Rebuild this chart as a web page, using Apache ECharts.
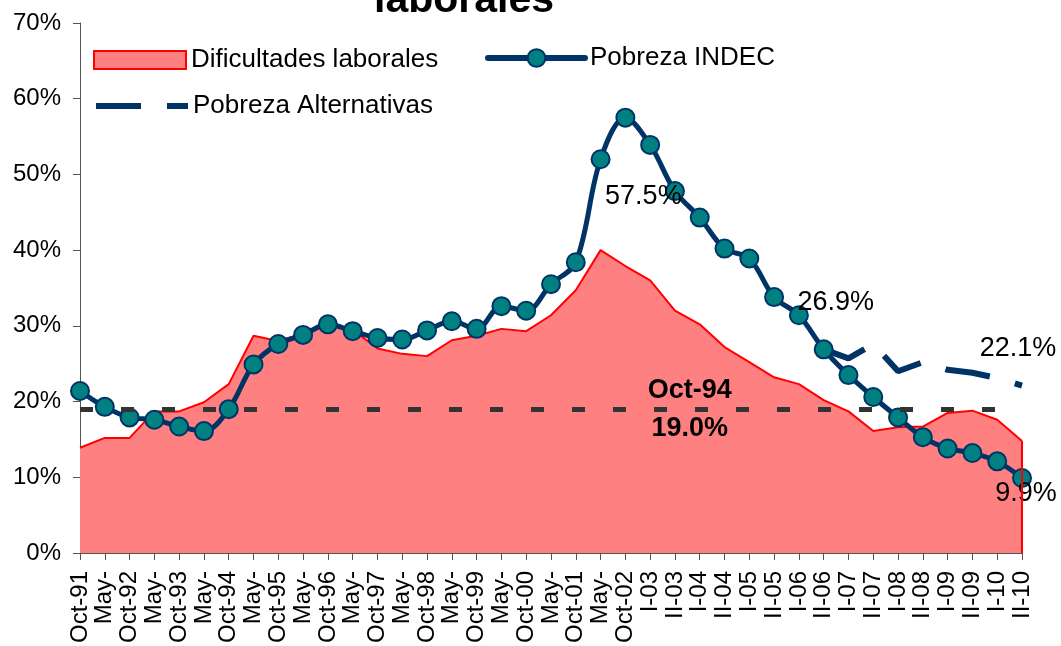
<!DOCTYPE html>
<html>
<head>
<meta charset="utf-8">
<script src="https://cdn.jsdelivr.net/npm/echarts@6/dist/echarts.min.js"></script>
<style>
  html, body { margin: 0; padding: 0; background: #fff; }
  #chart { width: 1061px; height: 646px; }
</style>
</head>
<body>
<div id="chart"></div>
<script>
// categorias del eje x
const CATEGORIES = ['Oct-91', 'May-', 'Oct-92', 'May-', 'Oct-93', 'May-', 'Oct-94', 'May-', 'Oct-95', 'May-',
  'Oct-96', 'May-', 'Oct-97', 'May-', 'Oct-98', 'May-', 'Oct-99', 'May-', 'Oct-00', 'May-', 'Oct-01', 'May-',
  'Oct-02', 'I-03', 'II-03', 'I-04', 'II-04', 'I-05', 'II-05', 'I-06', 'II-06', 'I-07', 'II-07', 'I-08', 'II-08',
  'I-09', 'II-09', 'I-10', 'II-10']

// series (%)
const DIFICULTADES = [13.9, 15.2, 15.2, 18.7, 18.7, 19.9, 22.3, 28.7, 28.0, 29.0, 30.0, 29.5, 27.0, 26.3, 26.0,
  28.1, 28.7, 29.6, 29.3, 31.4, 34.7, 40.0, 37.9, 36.0, 32.0, 30.2, 27.2, 25.2, 23.2, 22.3, 20.2, 18.7, 16.1,
  16.6, 16.7, 18.5, 18.8, 17.6, 14.8]
const INDEC = [21.4, 19.3, 17.9, 17.6, 16.7, 16.1, 19.0, 24.9, 27.6, 28.8, 30.2, 29.3, 28.4, 28.2, 29.4, 30.6,
  29.6, 32.6, 32.0, 35.5, 38.4, 52.0, 57.5, 53.9, 47.8, 44.3, 40.2, 38.9, 33.8, 31.4, 26.9, 23.5, 20.6, 17.9,
  15.3, 13.8, 13.2, 12.1, 9.9]
// Pobreza Alternativas arranca en II-06
const ALT_START = 'II-06'
const ALTERNATIVAS = [26.9, 25.7, 27.6, 24.0, 25.2, 24.2, 23.8, 23.1, 22.1]

// referencia: Oct-94
const REF_CATEGORY = 'Oct-94'
const REF_LABEL_AT = 'I-04'

// eje y
const Y_MIN = 0
const Y_MAX = 70
const Y_STEP = 10

const FONT = 'Liberation Sans, Arial, sans-serif'
const pct = (v) => v.toFixed(1) + '%'

const refIndex = CATEGORIES.indexOf(REF_CATEGORY)
const refValue = INDEC[refIndex]
const altStart = CATEGORIES.indexOf(ALT_START)
const last = CATEGORIES.length - 1

// etiquetas puestas a mano como en el original
const indecLabelOffsets = { 22: [18, 79], 30: [12, -47] }
indecLabelOffsets[last] = [4, 16]

const indecData = INDEC.map((v, i) => {
  const off = indecLabelOffsets[i]
  if (!off) return v
  return { value: v, label: { show: true, position: 'inside', offset: off } }
})

const altData = ALTERNATIVAS.map((v, i) => {
  const idx = altStart + i
  if (idx !== last) return [idx, v]
  return { value: [idx, v], label: { show: true, position: 'inside', offset: [-4, -37] } }
})

const labelText = { fontFamily: FONT, fontSize: 27, color: '#000' }

const chart = echarts.init(document.getElementById('chart'))
const option = {
  animation: false,
  title: {
    text: 'laborales',
    left: 374,
    top: -20,
    padding: 0,
    textStyle: { fontFamily: FONT, fontSize: 41, fontWeight: 'bold', color: '#000' }
  },
  legend: [
    {
      left: 93, top: 47, padding: 0,
      itemWidth: 92, itemHeight: 18,
      textStyle: { fontFamily: FONT, fontSize: 26, color: '#000' },
      data: [{
        name: 'Dificultades laborales',
        icon: 'rect',
        itemStyle: { color: '#FF8080', borderColor: '#FF0000', borderWidth: 2 }
      }]
    },
    {
      left: 485, top: 45, padding: 0,
      itemWidth: 97, itemHeight: 22,
      textStyle: { fontFamily: FONT, fontSize: 26, color: '#000' },
      lineStyle: { width: 6, cap: 'round' },
      data: ['Pobreza INDEC']
    },
    {
      left: 93, top: 93, padding: 0,
      itemWidth: 92, itemHeight: 18,
      textStyle: { fontFamily: FONT, fontSize: 26, color: '#000' },
      lineStyle: { width: 6 },
      data: ['Pobreza Alternativas']
    }
  ],
  grid: { left: 80, right: 39, top: 23, bottom: 90 },
  xAxis: {
    type: 'category',
    data: CATEGORIES,
    boundaryGap: false,
    axisLine: { lineStyle: { color: '#555', width: 1 } },
    axisTick: { interval: 0, length: 7, lineStyle: { color: '#555' } },
    axisLabel: {
      interval: 0, rotate: 90, margin: 18,
      fontFamily: FONT, fontSize: 24, color: '#000'
    },
    splitLine: { show: false }
  },
  yAxis: {
    type: 'value',
    min: Y_MIN, max: Y_MAX, interval: Y_STEP,
    axisLine: { show: true, lineStyle: { color: '#555', width: 1 } },
    axisTick: { show: true, length: 7, lineStyle: { color: '#555' } },
    axisLabel: {
      margin: 19, fontFamily: FONT, fontSize: 24, color: '#000',
      formatter: '{value}%'
    },
    splitLine: { show: false }
  },
  series: [
    {
      name: 'Dificultades laborales',
      type: 'line',
      data: DIFICULTADES,
      symbol: 'none',
      lineStyle: { color: '#FF0000', width: 2 },
      itemStyle: { color: '#FF8080' },
      areaStyle: { color: '#FF8080', opacity: 1 },
      z: 1,
      markLine: {
        silent: true,
        symbol: 'none',
        label: { show: false },
        data: [
          { yAxis: refValue, lineStyle: { color: '#333333', width: 5, type: [13, 28] } },
          // borde derecho del area
          [
            { coord: [CATEGORIES[last], 0], lineStyle: { color: '#FF0000', width: 2, type: 'solid' } },
            { coord: [CATEGORIES[last], DIFICULTADES[last]] }
          ]
        ]
      },
      markPoint: {
        silent: true,
        symbolSize: 0,
        label: {
          show: true, position: 'inside', offset: [-10, 0],
          fontFamily: FONT, fontSize: 27, fontWeight: 'bold', color: '#000', lineHeight: 38,
          formatter: () => REF_CATEGORY + '\n' + pct(refValue)
        },
        data: [{ coord: [REF_LABEL_AT, refValue] }]
      }
    },
    {
      name: 'Pobreza Alternativas',
      type: 'line',
      data: altData,
      symbol: 'circle',
      symbolSize: 1,
      lineStyle: { color: '#003366', width: 6, type: [45, 26], cap: 'butt' },
      itemStyle: { color: 'rgba(0,0,0,0)', borderWidth: 0 },
      label: Object.assign({ formatter: (p) => pct(p.value[1]) }, labelText),
      z: 3
    },
    {
      name: 'Pobreza INDEC',
      type: 'line',
      data: indecData,
      smooth: 0.35,
      symbol: 'circle',
      symbolSize: 18,
      lineStyle: { color: '#003366', width: 5 },
      itemStyle: { color: '#008080', borderColor: '#003366', borderWidth: 2 },
      label: Object.assign({ formatter: (p) => pct(p.value) }, labelText),
      z: 4
    }
  ]
}
chart.setOption(option)
</script>
</body>
</html>
